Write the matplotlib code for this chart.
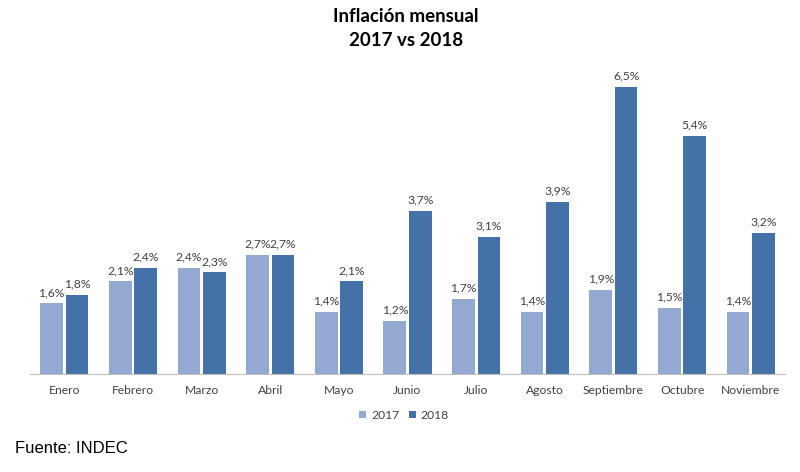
import matplotlib
matplotlib.use("Agg")
import matplotlib.pyplot as plt
import numpy as np

months = ["Enero", "Febrero", "Marzo", "Abril", "Mayo", "Junio", "Julio",
          "Agosto", "Septiembre", "Octubre", "Noviembre"]
v2017 = [1.6, 2.1, 2.4, 2.7, 1.4, 1.2, 1.7, 1.4, 1.9, 1.5, 1.4]
v2018 = [1.8, 2.4, 2.3, 2.7, 2.1, 3.7, 3.1, 3.9, 6.5, 5.4, 3.2]
series_labels = ["2017", "2018"]

c17 = "#94A9D1"
c18 = "#4471A8"
txt = "#404040"

plt.rcParams['font.family'] = ['Lato', 'DejaVu Sans']

fig = plt.figure(figsize=(8, 4.72), dpi=100)
ax = fig.add_axes([0.0375, 0.2076, 0.9438, 0.655])

x = np.arange(len(months))
w = 0.33
off = 0.185
b1 = ax.bar(x - off, v2017, w, color=c17, label=series_labels[0])
b2 = ax.bar(x + off, v2018, w, color=c18, label=series_labels[1])

def fmt(v):
    return f"{v:.1f}%".replace(".", ",")

for bars, vals in ((b1, v2017), (b2, v2018)):
    for r, v in zip(bars, vals):
        ax.text(r.get_x() + r.get_width() / 2, v + 0.12, fmt(v),
                ha="center", va="bottom", fontsize=8.7, color=txt)

ax.set_xlim(-0.5, len(months) - 0.5)
ax.set_ylim(0, 7.0)
ax.set_xticks(x)
ax.set_xticklabels(months, fontsize=8.7, color=txt)
ax.tick_params(axis="x", length=0, pad=8)
ax.set_yticks([])
for s in ["top", "right", "left"]:
    ax.spines[s].set_visible(False)
ax.spines["bottom"].set_color("#BFBFBF")

fig.text(0.507, 0.982, "Inflación mensual\n2017 vs 2018", ha="center", va="top",
         fontsize=13.5, fontweight="bold", color="#000000", linespacing=1.5)

leg = fig.legend(handles=[b1, b2], labels=series_labels, loc="center",
                 bbox_to_anchor=(0.505, 0.12), ncol=2, frameon=False,
                 fontsize=8.7, handlelength=0.6, handleheight=0.6,
                 handletextpad=0.4, columnspacing=0.8)
for t in leg.get_texts():
    t.set_color(txt)

fig.text(0.019, 0.05, "Fuente: INDEC", ha="left", va="center",
         fontsize=12, family=["Liberation Sans", "DejaVu Sans"], color="#000000")

fig.savefig("out.png", dpi=100)
